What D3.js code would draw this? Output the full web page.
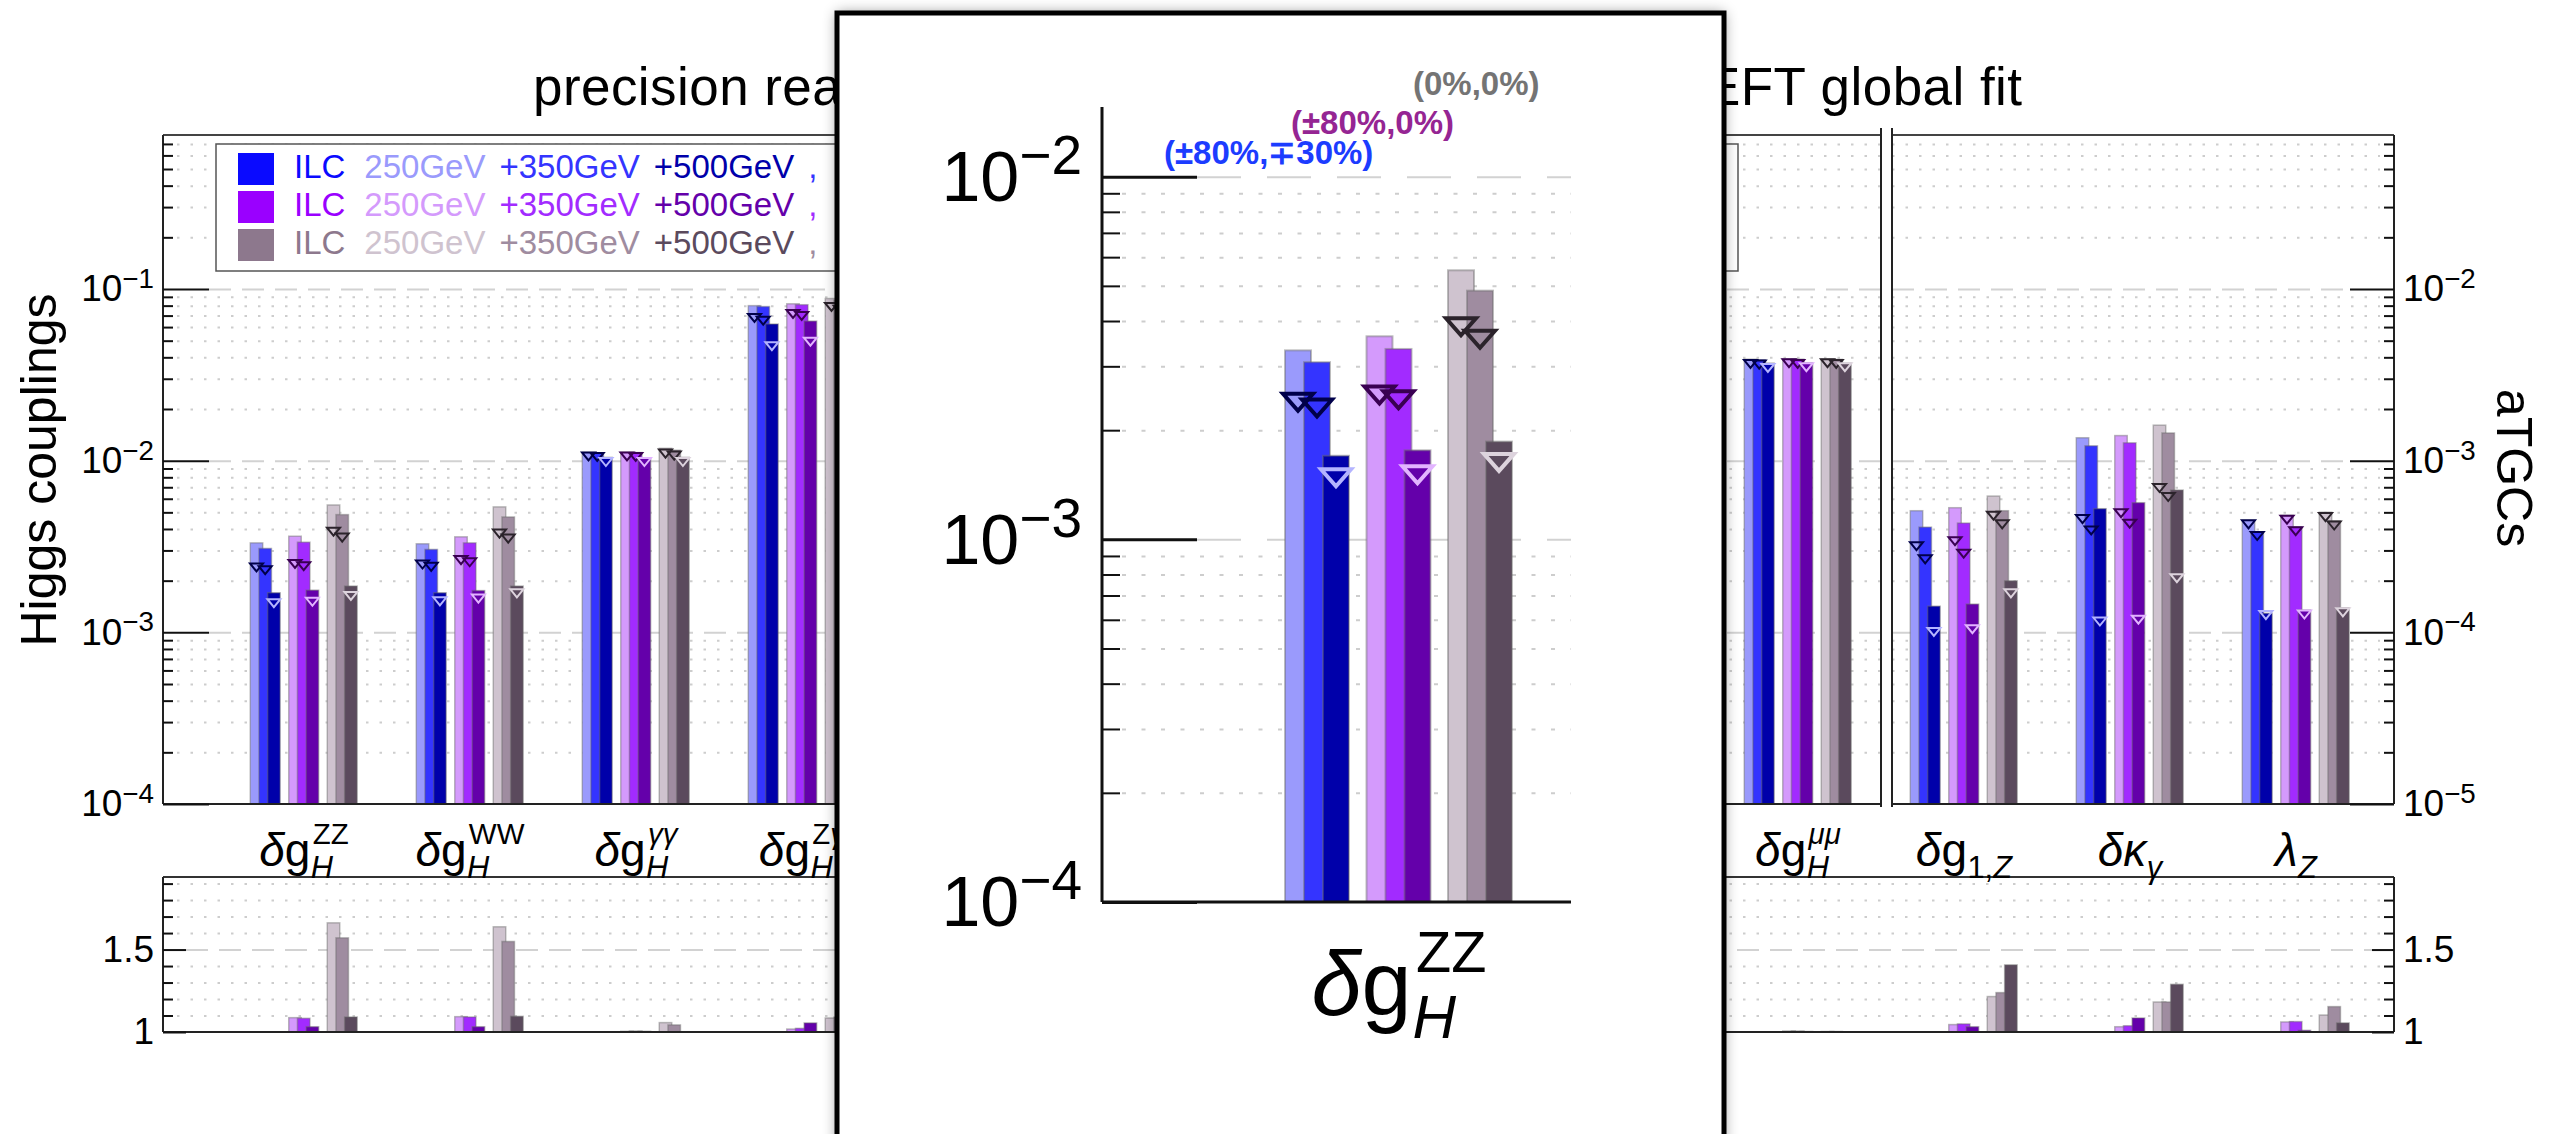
<!DOCTYPE html>
<html>
<head>
<meta charset="utf-8">
<script src="https://cdn.jsdelivr.net/npm/d3@7"></script>
<style>
  body { margin: 0; background: #fff; }
  svg text { font-family: 'Liberation Sans', Arial, Helvetica, sans-serif; }
</style>
</head>
<body>
<svg id="chart" width="2558" height="1134"></svg>
<script>
// ---- data ----
const categories = ['ZZ', 'WW', 'γγ', 'Zγ', 'gg', 'tt', 'cc', 'bb', 'ττ', 'μμ', 'g1Z', 'κγ', 'λZ'];
const nHiggs = 10; // first 10 on the "Higgs couplings" axis, the rest on "aTGCs"

const labelHead = ['δg', 'δg', 'δg', 'δg', 'δg', 'δg', 'δg', 'δg', 'δg', 'δg', 'δg', 'δκ', 'λ'];
const labelSub = ['H', 'H', 'H', 'H', 'H', 'H', 'H', 'H', 'H', 'H', '1,Z', 'γ', 'Z'];
const labelSup = ['ZZ', 'WW', 'γγ', 'Zγ', 'gg', 'tt', 'cc', 'bb', 'ττ', 'μμ', '', '', ''];

// categories 4..8 are hidden behind the zoom inset -> null
const blue250 = [3.32e-3, 3.28e-3, 1.117e-2, 0.080, null, null, null, null, null, 0.0390, 5.11e-4, 1.36e-3, 4.49e-4];
const blue350 = [3.08e-3, 3.04e-3, 1.110e-2, 0.079, null, null, null, null, null, 0.0387, 4.10e-4, 1.22e-3, 3.84e-4];
const blue500 = [1.70e-3, 1.70e-3, 1.045e-2, 0.0625, null, null, null, null, null, 0.0370, 1.42e-4, 5.25e-4, 1.29e-4];
const purple250 = [3.63e-3, 3.60e-3, 1.120e-2, 0.082, null, null, null, null, null, 0.0392, 5.32e-4, 1.40e-3, 4.80e-4];
const purple350 = [3.35e-3, 3.32e-3, 1.115e-2, 0.081, null, null, null, null, null, 0.0390, 4.33e-4, 1.27e-3, 4.12e-4];
const purple500 = [1.76e-3, 1.75e-3, 1.040e-2, 0.065, null, null, null, null, null, 0.0372, 1.46e-4, 5.69e-4, 1.35e-4];
const grey250 = [5.52e-3, 5.38e-3, 1.180e-2, 0.088, null, null, null, null, null, 0.0391, 6.22e-4, 1.61e-3, 5.01e-4];
const grey350 = [4.85e-3, 4.70e-3, 1.150e-2, 0.086, null, null, null, null, null, 0.0389, 5.11e-4, 1.45e-3, 4.46e-4];
const grey500 = [1.86e-3, 1.86e-3, 1.045e-2, 0.066, null, null, null, null, null, 0.0370, 1.995e-4, 6.74e-4, 1.39e-4];

// open triangle markers
const blueMark250 = [2.52e-3, 2.62e-3, 1.117e-2, 0.0716, null, null, null, null, null, 0.0386, 3.35e-4, 4.82e-4, 4.49e-4];
const blueMark350 = [2.43e-3, 2.54e-3, 1.110e-2, 0.0690, null, null, null, null, null, 0.0383, 2.81e-4, 4.14e-4, 3.84e-4];
const blueMark500 = [1.56e-3, 1.60e-3, 1.036e-2, 0.049, null, null, null, null, null, 0.0366, 1.06e-4, 1.22e-4, 1.33e-4];
const purpleMark250 = [2.64e-3, 2.78e-3, 1.117e-2, 0.0755, null, null, null, null, null, 0.0390, 3.58e-4, 5.22e-4, 4.78e-4];
const purpleMark350 = [2.56e-3, 2.70e-3, 1.110e-2, 0.0735, null, null, null, null, null, 0.0386, 3.03e-4, 4.53e-4, 4.10e-4];
const purpleMark500 = [1.59e-3, 1.66e-3, 1.036e-2, 0.052, null, null, null, null, null, 0.0370, 1.10e-4, 1.25e-4, 1.34e-4];
const greyMark250 = [4.07e-3, 3.97e-3, 1.160e-2, 0.083, null, null, null, null, null, 0.0390, 5.04e-4, 7.31e-4, 4.95e-4];
const greyMark350 = [3.76e-3, 3.71e-3, 1.130e-2, 0.080, null, null, null, null, null, 0.0386, 4.49e-4, 6.48e-4, 4.42e-4];
const greyMark500 = [1.72e-3, 1.78e-3, 1.036e-2, 0.054, null, null, null, null, null, 0.0370, 1.78e-4, 2.18e-4, 1.38e-4];

// lower panel: ratio to the blue scenario
const purpleRatio250 = [1.087, 1.093, 1.004, 1.018, null, null, null, null, null, 1.006, 1.045, 1.032, 1.061];
const purpleRatio350 = [1.083, 1.091, 1.006, 1.022, null, null, null, null, null, 1.006, 1.049, 1.038, 1.063];
const purpleRatio500 = [1.032, 1.032, 1.004, 1.055, null, null, null, null, null, 1.003, 1.032, 1.085, 1.010];
const greyRatio250 = [1.662, 1.638, 1.057, 1.085, null, null, null, null, null, 1.003, 1.215, 1.182, 1.103];
const greyRatio350 = [1.571, 1.549, 1.043, 1.090, null, null, null, null, null, 1.003, 1.239, 1.182, 1.154];
const greyRatio500 = [1.091, 1.095, 1.002, 1.060, null, null, null, null, null, 1.001, 1.407, 1.289, 1.055];

const higgsDecades = [1e-4, 1e-3, 1e-2, 1e-1];
const tgcDecades = [1e-5, 1e-4, 1e-3, 1e-2];
const insetDecades = [1e-4, 1e-3, 1e-2];
const ratioLabels = [1, 1.5];

const legendWords = ['ILC', '250GeV', '+350GeV', '+500GeV', ','];
const legendPol = ['(±80%,∓30%)', '(±80%,0%)', '(0%,0%)'];

// ---- styles ----
const barColors = [
  ['#9a9afc', '#3434ff', '#0000aa'],
  ['#d49afc', '#a22bff', '#6400aa'],
  ['#cfc3cf', '#9f8ca0', '#5b4a5d']
];
const markColors = [
  ['#00004a', '#00004a', '#b4b4ff'],
  ['#3a0052', '#3a0052', '#e2b4ff'],
  ['#2b232b', '#2b232b', '#ddd3dd']
];
const swatchColors = ['#0a0aff', '#9a00ff', '#8d788d'];
const polColors = ['#1c3cff', '#952593', '#747474'];

const bars = [[blue250, blue350, blue500], [purple250, purple350, purple500], [grey250, grey350, grey500]];
const marks = [[blueMark250, blueMark350, blueMark500], [purpleMark250, purpleMark350, purpleMark500], [greyMark250, greyMark350, greyMark500]];
const ratios = [null, [purpleRatio250, purpleRatio350, purpleRatio500], [greyRatio250, greyRatio350, greyRatio500]];

const svg = d3.select('#chart');

const defs = svg.append('defs');
defs.append('filter').attr('id', 'shadow').attr('x', '-10%').attr('y', '-10%').attr('width', '120%').attr('height', '120%')
  .append('feDropShadow').attr('dx', 0).attr('dy', 0).attr('stdDeviation', 7)
  .attr('flood-color', '#000').attr('flood-opacity', 0.45);

// ---- layout ----
const pLeft = 163, pRight = 2394, pTop = 135, pBottom = 804, split1 = 1881, split2 = 1892;
const rTop = 877, rBottom = 1032;

const x = d3.scalePoint().domain(categories).range([303.7, 2295.7]);
const yH = d3.scaleLog().domain([1e-4, 1e-1]).range([pBottom, 289]);
const yT = d3.scaleLog().domain([1e-5, 1e-2]).range([pBottom, 289]);
const yR = d3.scaleLinear().domain([1, 1.94]).range([rBottom, rTop]);

const isDecade = v => Math.abs(Math.log10(v) - Math.round(Math.log10(v))) < 1e-6;
const minorH = yH.copy().domain([1e-4, 0.79]).ticks().filter(v => !isDecade(v));
const minorT = yT.copy().domain([1e-5, 0.079]).ticks().filter(v => !isDecade(v));
const minorR = yR.ticks(10).filter(v => v !== 1 && v !== 1.5);

// ---- helpers ----
function rich(text, str, italicLatin) {
  const isIt = c => /[α-ω]/.test(c) || (italicLatin && /[A-Za-z]/.test(c));
  let run = '', it = null;
  const flush = () => {
    if (run) text.append('tspan').attr('font-style', it ? 'italic' : 'normal').text(run);
    run = '';
  };
  for (const c of str) {
    const ci = isIt(c);
    if (it !== null && ci !== it) flush();
    it = ci;
    run += c;
  }
  flush();
}

function catLabel(g, i, cx, base, fs) {
  const lg = g.append('g');
  const head = lg.append('text').attr('x', 0).attr('y', base).attr('font-size', fs);
  rich(head, labelHead[i], false);
  const wh = head.node().getComputedTextLength();
  const sub = lg.append('text').attr('x', wh + fs * 0.01).attr('y', base + fs * 0.25).attr('font-size', fs * 0.67);
  rich(sub, labelSub[i], true);
  const sup = lg.append('text').attr('x', wh + fs * 0.05).attr('y', base - fs * 0.48).attr('font-size', fs * 0.64);
  rich(sup, labelSup[i], false);
  const total = wh + Math.max(sub.node().getComputedTextLength(), sup.node().getComputedTextLength() + fs * 0.04);
  lg.attr('transform', `translate(${cx - total / 2},0)`);
}

function powLabels(sel, fs) {
  sel.each(function (d) {
    const t = d3.select(this);
    const e = Math.round(Math.log10(d));
    t.text(null).attr('font-size', fs);
    t.append('tspan').text('10');
    t.append('tspan').attr('font-size', fs * 0.75).attr('dy', -fs * 0.36).text('−' + Math.abs(e));
  });
}

function gridLines(g, scale, values, x0, x1, dash, color) {
  g.append('g').attr('transform', `translate(${x0},0)`)
    .call(d3.axisLeft(scale).tickValues(values).tickSize(-(x1 - x0)).tickFormat(''))
    .call(a => a.select('.domain').remove())
    .selectAll('line')
    .attr('stroke', color).attr('stroke-width', 2).attr('stroke-dasharray', dash);
}

// bars of one category: 3 scenarios x 3 energies, overlapping
function drawGroup(g, ci, cx, yScale, base, geo, valueSets) {
  const span = 2 * geo.step + 2 * geo.off + geo.w;
  const x0 = cx - span / 2;
  for (let s = 0; s < 3; s++) {
    if (!valueSets[s]) continue;
    for (let e = 0; e < 3; e++) {
      const v = valueSets[s][e][ci];
      if (v == null) continue;
      const bx = x0 + s * geo.step + e * geo.off;
      g.append('rect')
        .attr('x', bx).attr('width', geo.w)
        .attr('y', yScale(v)).attr('height', Math.max(0, base - yScale(v)))
        .attr('fill', barColors[s][e])
        .attr('stroke', '#6a6a6a').attr('stroke-opacity', 0.45).attr('stroke-width', geo.sw);
    }
  }
}

function drawMarks(g, ci, cx, yScale, geo) {
  const span = 2 * geo.step + 2 * geo.off + geo.w;
  const x0 = cx - span / 2;
  for (let s = 0; s < 3; s++) {
    for (let e = 0; e < 3; e++) {
      const v = marks[s][e][ci];
      if (v == null) continue;
      const mx = x0 + s * geo.step + e * geo.off + geo.w / 2;
      const my = yScale(v);
      const p = d3.path();
      p.moveTo(mx - geo.tw / 2, my);
      p.lineTo(mx + geo.tw / 2, my);
      p.lineTo(mx, my + geo.th);
      p.closePath();
      g.append('path').attr('d', p.toString())
        .attr('fill', 'none').attr('stroke', markColors[s][e])
        .attr('stroke-width', geo.tsw).attr('stroke-linejoin', 'miter');
    }
  }
}

// ---- title ----
svg.append('text')
  .attr('x', 533).attr('y', 105).attr('font-size', 53)
  .attr('textLength', 1489).attr('lengthAdjust', 'spacing')
  .text('precision reach of ILC Higgs & TGC couplings in EFT global fit');

// ---- main panel grid ----
const grid = svg.append('g');
gridLines(grid, yH, minorH, pLeft + 14, split1, '2.5 11', '#cdcdcd');
gridLines(grid, yH, higgsDecades.slice(1), pLeft + 46, split1, '22 11', '#d2d2d2');
gridLines(grid, yT, minorT, split2, pRight - 14, '2.5 11', '#cdcdcd');
gridLines(grid, yT, tgcDecades.slice(1), split2, pRight - 44, '22 11', '#d2d2d2');

// ratio grid
gridLines(grid, yR, minorR, pLeft + 14, pRight - 14, '2.5 11', '#cdcdcd');
gridLines(grid, yR, [1.5], pLeft + 23, pRight - 22, '22 11', '#d2d2d2');

// ---- legend ----
const leg = svg.append('g');
leg.append('rect').attr('x', 216).attr('y', 144).attr('width', 1522).attr('height', 127)
  .attr('fill', '#fff').attr('stroke', '#555').attr('stroke-width', 1.5);
const legGaps = [0, 19, 14, 14, 17];
for (let s = 0; s < 3; s++) {
  const ry = 153 + s * 38;
  leg.append('rect').attr('x', 238).attr('y', ry).attr('width', 36).attr('height', 32).attr('fill', swatchColors[s]);
  const t = leg.append('text').attr('x', 294).attr('y', ry + 25).attr('font-size', 33);
  const cols = [swatchColors[s], barColors[s][0], barColors[s][1], barColors[s][2], barColors[s][1]];
  legendWords.forEach((w, k) => {
    t.append('tspan').attr('dx', legGaps[k]).attr('fill', cols[k]).text(w);
  });
}

// ---- bars ----
const mainGeo = { w: 12.5, off: 8.7, step: 38.5, sw: 1.5, tw: 13, th: 8, tsw: 2 };
const barsG = svg.append('g');
categories.forEach((c, i) => {
  const ys = i < nHiggs ? yH : yT;
  drawGroup(barsG, i, x(c), ys, pBottom, mainGeo, bars);
  drawMarks(barsG, i, x(c), ys, mainGeo);
  drawGroup(barsG, i, x(c), yR, rBottom, mainGeo, ratios);
});

// ---- frames and axes ----
const axes = svg.append('g');
const fr = (x1, y1, x2, y2, w, col) => axes.append('line').attr('x1', x1).attr('y1', y1).attr('x2', x2).attr('y2', y2)
  .attr('stroke', col || '#222').attr('stroke-width', w || 2);
fr(pLeft, pTop, split1, pTop, 2, '#444');
fr(split2, pTop, pRight, pTop, 2, '#444');
fr(pLeft, pBottom, split1, pBottom);
fr(split2, pBottom, pRight, pBottom);
fr(pLeft, pTop, pLeft, pBottom);
fr(pRight, pTop, pRight, pBottom);
fr(split1, 128, split1, 807);
fr(split2, 128, split2, 807);
// ratio frame
fr(pLeft, rTop, pRight, rTop, 2, '#333');
fr(pLeft, rBottom, pRight, rBottom);
fr(pLeft, rTop, pLeft, rBottom);
fr(pRight, rTop, pRight, rBottom);

function styleAxis(a) {
  a.select('.domain').remove();
  a.selectAll('line').attr('stroke', '#111').attr('stroke-width', 2);
  a.attr('font-family', null).attr('font-size', null);
  a.selectAll('text').attr('fill', '#000');
}

// left (Higgs) axis
axes.append('g').attr('transform', `translate(${pLeft},0)`)
  .call(d3.axisLeft(yH).tickValues(higgsDecades).tickSize(-46).tickPadding(9))
  .call(styleAxis)
  .call(a => powLabels(a.selectAll('text'), 37));
axes.append('g').attr('transform', `translate(${pLeft},0)`)
  .call(d3.axisLeft(yH).tickValues(minorH).tickSize(-10).tickFormat(''))
  .call(styleAxis);
// right (aTGC) axis
axes.append('g').attr('transform', `translate(${pRight},0)`)
  .call(d3.axisRight(yT).tickValues(tgcDecades).tickSize(-44).tickPadding(9))
  .call(styleAxis)
  .call(a => powLabels(a.selectAll('text'), 37));
axes.append('g').attr('transform', `translate(${pRight},0)`)
  .call(d3.axisRight(yT).tickValues(minorT).tickSize(-10).tickFormat(''))
  .call(styleAxis);
// ratio axes
axes.append('g').attr('transform', `translate(${pLeft},0)`)
  .call(d3.axisLeft(yR).tickValues(ratioLabels).tickSize(-23).tickPadding(9).tickFormat(d3.format('')))
  .call(styleAxis)
  .call(a => a.selectAll('text').attr('font-size', 37));
axes.append('g').attr('transform', `translate(${pLeft},0)`)
  .call(d3.axisLeft(yR).tickValues(minorR).tickSize(-10).tickFormat(''))
  .call(styleAxis);
axes.append('g').attr('transform', `translate(${pRight},0)`)
  .call(d3.axisRight(yR).tickValues(ratioLabels).tickSize(-22).tickPadding(9).tickFormat(d3.format('')))
  .call(styleAxis)
  .call(a => a.selectAll('text').attr('font-size', 37));
axes.append('g').attr('transform', `translate(${pRight},0)`)
  .call(d3.axisRight(yR).tickValues(minorR).tickSize(-10).tickFormat(''))
  .call(styleAxis);

// axis titles
svg.append('text').attr('transform', 'translate(56,470) rotate(-90)')
  .attr('text-anchor', 'middle').attr('font-size', 50).text('Higgs couplings');
svg.append('text').attr('transform', 'translate(2497,468) rotate(90)')
  .attr('text-anchor', 'middle').attr('font-size', 50).text('aTGCs');

// category labels (the ones under the inset are not visible, so skip them)
const labG = svg.append('g');
categories.forEach((c, i) => {
  if (blue250[i] != null) catLabel(labG, i, x(c), 866, 46);
});

// ---- zoom inset on δg_H^ZZ ----
const inset = svg.append('g');
inset.append('rect').attr('x', 837).attr('y', 13).attr('width', 887).attr('height', 1200)
  .attr('fill', '#fff').attr('filter', 'url(#shadow)');
inset.append('rect').attr('x', 837).attr('y', 13).attr('width', 887).attr('height', 1200)
  .attr('fill', 'none').attr('stroke', '#000').attr('stroke-width', 5);

const iLeft = 1102, iRight = 1571, iTop = 107, iBottom = 902;
const yI = d3.scaleLog().domain([1e-4, 1e-2]).range([iBottom, 176.7]);
const minorI = yI.ticks().filter(v => !isDecade(v));
const iCx = 1398.5;

gridLines(inset, yI, minorI, iLeft + 20, iRight, '4 15.5', '#cdcdcd');
gridLines(inset, yI, insetDecades.slice(1), iLeft + 95, iRight, '44 26', '#d2d2d2');

const insetGeo = { w: 26, off: 19, step: 81.5, sw: 2, tw: 30, th: 17, tsw: 4 };
drawGroup(inset, 0, iCx, yI, iBottom, insetGeo, bars);
drawMarks(inset, 0, iCx, yI, insetGeo);

inset.append('g').attr('transform', `translate(${iLeft},0)`)
  .call(d3.axisLeft(yI).tickValues(insetDecades).tickSize(-95).tickPadding(20))
  .call(styleAxis)
  .call(a => a.selectAll('line').attr('stroke-width', 3))
  .call(a => a.selectAll('text').each(function (d) {
    const t = d3.select(this);
    t.text(null).attr('font-size', 70).attr('dy', '0.34em');
    t.append('tspan').text('10');
    t.append('tspan').attr('font-size', 55).attr('dy', -27).text('−' + Math.abs(Math.round(Math.log10(d))));
  }));
inset.append('g').attr('transform', `translate(${iLeft},0)`)
  .call(d3.axisLeft(yI).tickValues(minorI).tickSize(-18).tickFormat(''))
  .call(styleAxis);
inset.append('line').attr('x1', iLeft).attr('x2', iLeft).attr('y1', iTop).attr('y2', iBottom)
  .attr('stroke', '#111').attr('stroke-width', 3);
inset.append('line').attr('x1', iLeft).attr('x2', iRight).attr('y1', iBottom).attr('y2', iBottom)
  .attr('stroke', '#111').attr('stroke-width', 3);

const polPos = [[1164, 164], [1291, 134], [1413, 95]];
legendPol.forEach((p, s) => {
  inset.append('text').attr('x', polPos[s][0]).attr('y', polPos[s][1])
    .attr('font-size', 33).attr('font-weight', 'bold').attr('fill', polColors[s]).text(p);
});

catLabel(inset, 0, iCx, 1015, 90);
</script>
</body>
</html>
